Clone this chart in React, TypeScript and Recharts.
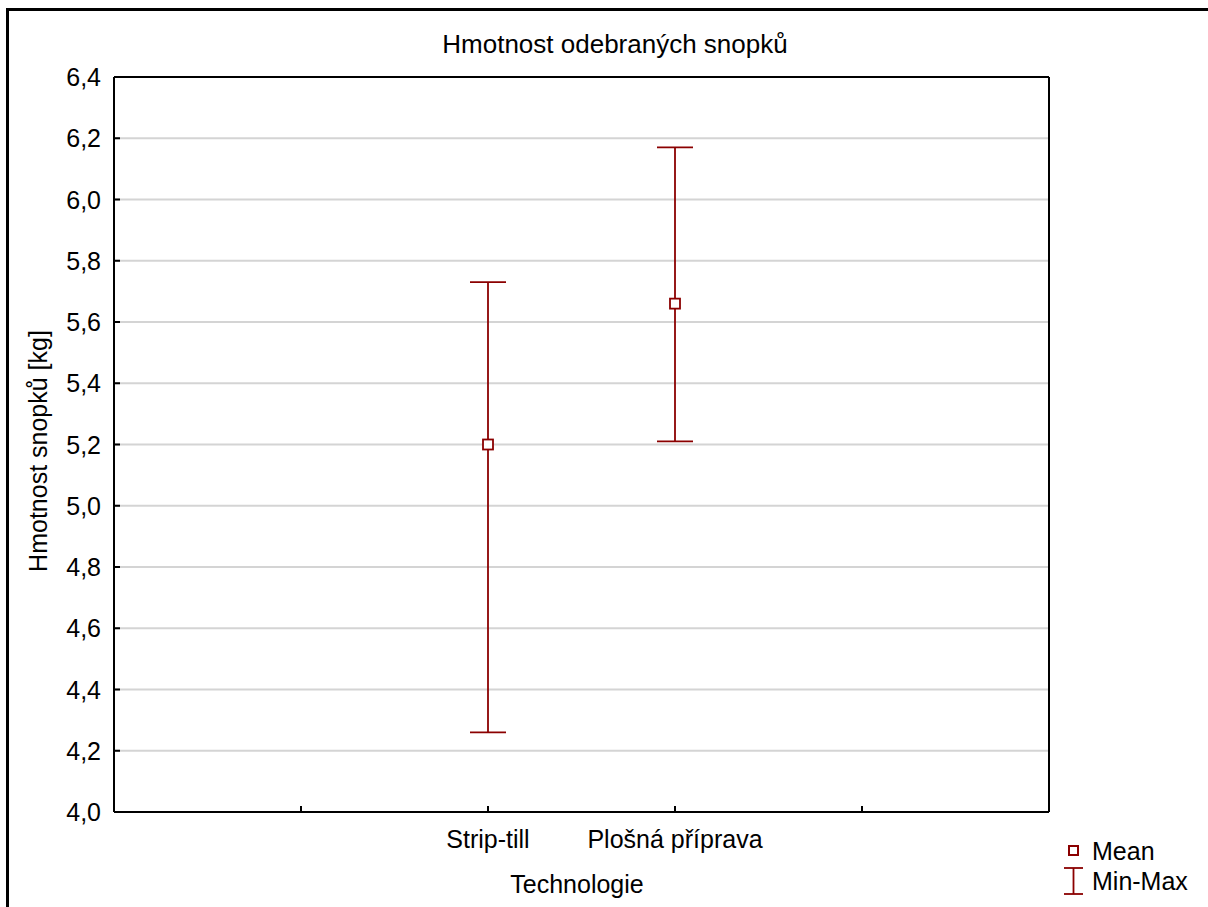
import {
  ComposedChart,
  Scatter,
  ErrorBar,
  XAxis,
  YAxis,
  CartesianGrid,
} from "recharts";

// ── Data ──
const categories = ["Strip-till", "Plošná příprava"];
const categoryPositions = [2, 3];
const meanValues = [5.2, 5.66];
const minValues = [4.26, 5.21];
const maxValues = [5.73, 6.17];

const xTicks = [1, 2, 3, 4];
const yTicks = [4.0, 4.2, 4.4, 4.6, 4.8, 5.0, 5.2, 5.4, 5.6, 5.8, 6.0, 6.2, 6.4];

const RED = "#8b0000";
const FONT = '"Liberation Sans", Arial, sans-serif';

const data = categories.map((name, i) => ({
  name,
  x: categoryPositions[i],
  y: meanValues[i],
  err: [meanValues[i] - minValues[i], maxValues[i] - meanValues[i]],
}));

// ── Ticks ──
const BottomTick = ({ x, y, payload }: any) => {
  const idx = categoryPositions.indexOf(payload.value);
  if (idx < 0) return null;
  return (
    <text x={x} y={y} dy={42} textAnchor="middle" fontSize={25} fontFamily={FONT} fill="#000">
      {categories[idx]}
    </text>
  );
};

const LeftTick = ({ x, y, payload }: any) => (
  <text x={x} y={y} dy={9} textAnchor="end" fontSize={25} fontFamily={FONT} fill="#000">
    {Number(payload.value).toFixed(1).replace(".", ",")}
  </text>
);

const MeanShape = ({ cx, cy }: any) => (
  <rect x={cx - 5} y={cy - 5} width={10} height={10} fill="#fff" stroke={RED} strokeWidth={1.8} />
);

const ChartLegend = () => (
  <div
    style={{
      position: "absolute",
      left: 1060,
      top: 836,
      fontFamily: FONT,
      fontSize: 25,
      color: "#000",
      lineHeight: "30px",
    }}
  >
    <div style={{ display: "flex", alignItems: "center" }}>
      <svg width={32} height={30}>
        <rect x={9} y={10} width={9} height={9} fill="#fff" stroke={RED} strokeWidth={2} />
      </svg>
      <span>Mean</span>
    </div>
    <div style={{ display: "flex", alignItems: "center" }}>
      <svg width={32} height={30}>
        <line x1={13.5} y1={2} x2={13.5} y2={28} stroke={RED} strokeWidth={1.8} />
        <line x1={4} y1={2} x2={23} y2={2} stroke={RED} strokeWidth={1.8} />
        <line x1={4} y1={28} x2={23} y2={28} stroke={RED} strokeWidth={1.8} />
      </svg>
      <span>Min-Max</span>
    </div>
  </div>
);

export default function App() {
  return (
    <div
      style={{
        position: "absolute",
        left: 0,
        top: 0,
        width: 1208,
        height: 907,
        overflow: "hidden",
        background: "#fff",
      }}
    >
      {/* outer frame */}
      <div
        style={{
          position: "absolute",
          left: 6,
          top: 8,
          width: 1400,
          height: 1100,
          border: "3px solid #000",
        }}
      />

      <ComposedChart
        width={1208}
        height={907}
        data={data}
        margin={{ top: 76, right: 158, bottom: 0, left: 0 }}
        style={{ position: "absolute", left: 0, top: 0 }}
      >
        <CartesianGrid
          xAxisId="bottom"
          yAxisId="left"
          vertical={false}
          stroke="#d4d4d4"
          strokeWidth={2}
        />
        <XAxis
          xAxisId="bottom"
          type="number"
          dataKey="x"
          domain={[0, 5]}
          ticks={xTicks}
          height={95}
          axisLine={{ stroke: "#000", strokeWidth: 2 }}
          tickLine={{ stroke: "#000", strokeWidth: 2 }}
          tickSize={-6}
          tickMargin={0}
          tick={<BottomTick />}
          interval={0}
        />
        <XAxis
          xAxisId="top"
          orientation="top"
          type="number"
          dataKey="x"
          domain={[0, 5]}
          ticks={xTicks}
          height={1}
          axisLine={{ stroke: "#000", strokeWidth: 2 }}
          tickLine={{ stroke: "#000", strokeWidth: 2 }}
          tickSize={-6}
          tick={false}
        />
        <YAxis
          yAxisId="left"
          type="number"
          domain={[4, 6.4]}
          ticks={yTicks}
          width={114}
          axisLine={{ stroke: "#000", strokeWidth: 2 }}
          tickLine={{ stroke: "#000", strokeWidth: 2 }}
          tickSize={-6}
          tickMargin={19}
          tick={<LeftTick />}
          interval={0}
        />
        <YAxis
          yAxisId="right"
          orientation="right"
          type="number"
          domain={[4, 6.4]}
          ticks={yTicks}
          width={1}
          axisLine={{ stroke: "#000", strokeWidth: 2 }}
          tickLine={{ stroke: "#000", strokeWidth: 2 }}
          tickSize={-6}
          tick={false}
          interval={0}
        />
        <Scatter
          xAxisId="bottom"
          yAxisId="left"
          dataKey="y"
          shape={<MeanShape />}
          isAnimationActive={false}
        >
          <ErrorBar dataKey="err" direction="y" width={18} stroke={RED} strokeWidth={1.8} isAnimationActive={false} />
        </Scatter>
      </ComposedChart>

      <ChartLegend />

      {/* title */}
      <div
        style={{
          position: "absolute",
          left: 415,
          width: 400,
          top: 29,
          textAlign: "center",
          fontFamily: FONT,
          fontSize: 26,
          color: "#000",
        }}
      >
        Hmotnost odebraných snopků
      </div>

      {/* y label */}
      <div
        style={{
          position: "absolute",
          left: 38 - 200,
          top: 451 - 15,
          width: 400,
          height: 30,
          lineHeight: "30px",
          textAlign: "center",
          transform: "rotate(-90deg)",
          fontFamily: FONT,
          fontSize: 25,
          color: "#000",
        }}
      >
        Hmotnost snopků [kg]
      </div>

      {/* x label */}
      <div
        style={{
          position: "absolute",
          left: 377,
          width: 400,
          top: 870,
          textAlign: "center",
          fontFamily: FONT,
          fontSize: 25,
          color: "#000",
        }}
      >
        Technologie
      </div>
    </div>
  );
}
